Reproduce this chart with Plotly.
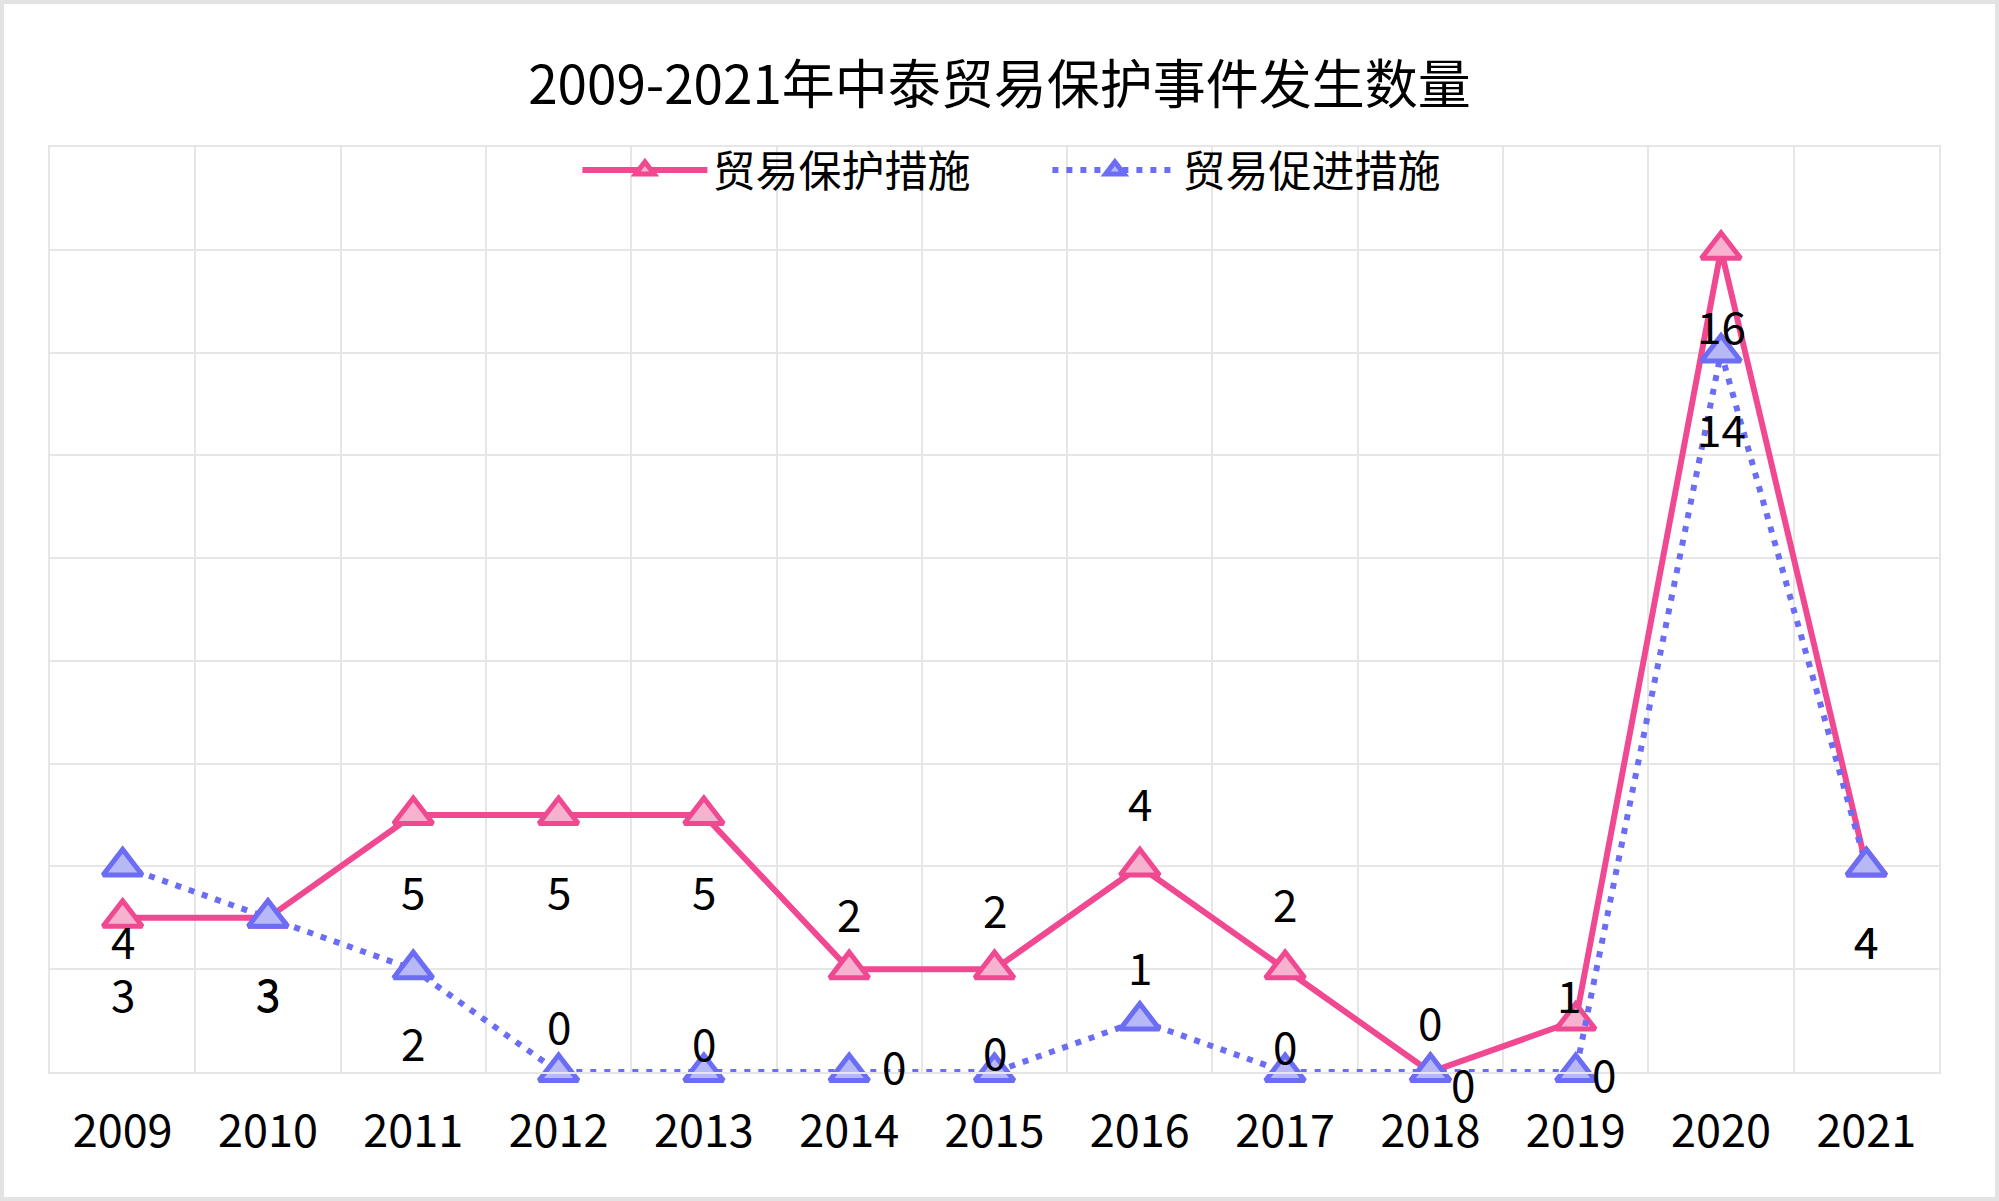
import plotly.graph_objects as go

years = ["2009", "2010", "2011", "2012", "2013", "2014", "2015",
         "2016", "2017", "2018", "2019", "2020", "2021"]
protect = [3, 3, 5, 5, 5, 2, 2, 4, 2, 0, 1, 16, 4]
promote = [4, 3, 2, 0, 0, 0, 0, 1, 0, 0, 0, 14, 4]
name_protect = "贸易保护措施"
name_promote = "贸易促进措施"
title = "2009-2021年中泰贸易保护事件发生数量"

# label offsets (pixels) - styling only
protect_dx = [0, 0, 0, 0, 0, 0, 0, 0, 0, 0, -7, 0, 0]
protect_dy = [-75, -75, -75, -75, -75, 56, 60, 64, 66, 51, 27, -75, -74]
promote_dx = [0, 0, 0, 0, 0, 45, 0, 0, 0, 33, 28, 0, 0]
promote_dy = [-74, -74, -73, 47, 30, 7, 21, 55, 27, -11, -1, -75, -74]

PINK = "#F04891"
PINK_FILL = "#F7B2CF"
BLUE = "#6B6DF5"
BLUE_FILL = "#B7B8F6"
GRID = "#E6E6E6"
FONT = "Noto Sans CJK SC"

W, H = 1999, 1201
ml, mr, mt, mb = 50, 60, 147, 129
pw, ph = W - ml - mr, H - mt - mb

fig = go.Figure()
fig.add_trace(go.Scatter(
    x=years, y=protect, name=name_protect, mode="lines+markers",
    line=dict(color=PINK, width=6),
    marker=dict(symbol="triangle-up", size=34, color=PINK_FILL,
                line=dict(color=PINK, width=5)),
    cliponaxis=False,
))
fig.add_trace(go.Scatter(
    x=years, y=promote, name=name_promote, mode="lines+markers",
    line=dict(color=BLUE, width=6, dash="6px,8px"),
    marker=dict(symbol="triangle-up", size=34, color=BLUE_FILL,
                line=dict(color=BLUE, width=5)),
    cliponaxis=False,
))

annotations = []
for i in range(len(years)):
    annotations.append(dict(x=i, y=protect[i], xref="x", yref="y", text=str(protect[i]),
                            showarrow=False, xshift=protect_dx[i], yshift=protect_dy[i],
                            font=dict(size=44, color="#000000", family=FONT)))
for i in range(len(years)):
    annotations.append(dict(x=i, y=promote[i], xref="x", yref="y", text=str(promote[i]),
                            showarrow=False, xshift=promote_dx[i], yshift=promote_dy[i],
                            font=dict(size=44, color="#000000", family=FONT)))

# outer light border around the whole picture
bx0 = (2 - ml) / pw
bx1 = (W - 2 - ml) / pw
by1 = (H - mb - 2) / ph
by0 = (H - mb - (H - 2)) / ph

fig.update_layout(
    width=W, height=H,
    margin=dict(l=ml, r=mr, t=mt, b=mb),
    paper_bgcolor="white", plot_bgcolor="white",
    font=dict(family=FONT, color="#000000"),
    title=dict(text=title, x=0.5, xanchor="center", y=1 - 85 / H, yanchor="middle",
               font=dict(size=53, family=FONT, color="#000000")),
    legend=dict(orientation="h", x=0.528, xanchor="center", y=1 - 23 / ph, yanchor="middle",
                bgcolor="rgba(0,0,0,0)", font=dict(size=43, family=FONT),
                itemwidth=125, entrywidth=330, tracegroupgap=0),
    showlegend=True,
    xaxis=dict(type="category", tickson="boundaries", showgrid=True, gridcolor=GRID, gridwidth=2,
               showline=True, mirror=True, linecolor=GRID, linewidth=2,
               ticks="", ticklabelstandoff=19,
               tickfont=dict(size=45, family=FONT, color="#000000"),
               range=[-0.5, 12.5], fixedrange=True),
    yaxis=dict(range=[0, 18], dtick=2, tick0=0, showgrid=True, gridcolor=GRID, gridwidth=2,
               showline=True, mirror=True, linecolor=GRID, linewidth=2,
               zeroline=False, showticklabels=False, ticks="", fixedrange=True),
    annotations=annotations,
    shapes=[dict(type="rect", xref="paper", yref="paper", x0=bx0, x1=bx1, y0=by0, y1=by1,
                 line=dict(color="#E3E3E3", width=4), layer="below")],
)

fig.write_html("out.html", config={"displayModeBar": False},
               post_script="document.body.style.margin='0';document.body.style.overflow='hidden';")
